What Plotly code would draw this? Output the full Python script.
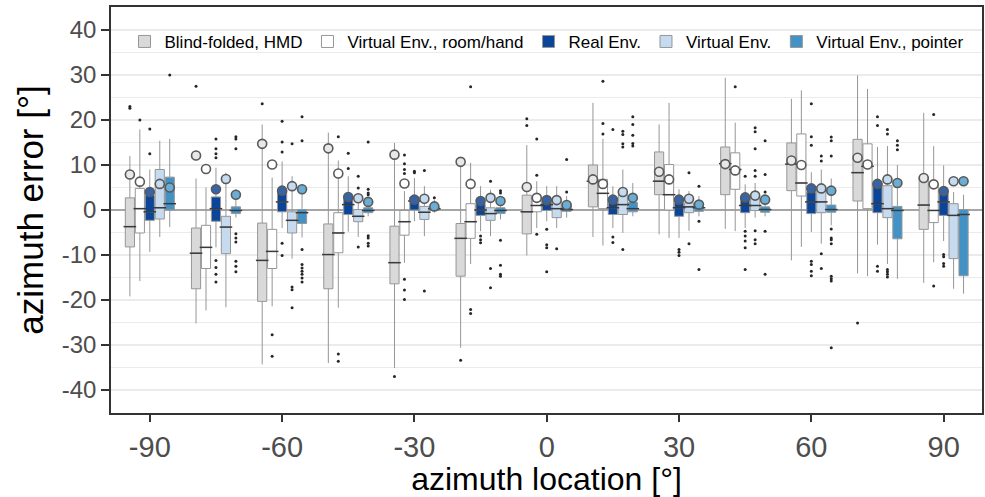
import plotly.graph_objects as go

azimuth = [-90, -75, -60, -45, -30, -15, 0, 15, 30, 45, 60, 75, 90]
conditions = ["Blind-folded, HMD", "Virtual Env., room/hand", "Real Env.",
              "Virtual Env.", "Virtual Env., pointer"]

# Blind-folded, HMD
blind_low = [-19.2, -25.2, -34.3, -34.0, -35.1, -30.6, -10.1, -6.0, -5.4, -4.2, -11.2, -14.1, -16.2]
blind_q1 = [-8.2, -17.5, -20.3, -17.5, -16.4, -14.7, -5.3, 0.7, 3.4, 3.4, 4.3, 2.0, -4.3]
blind_med = [-3.7, -9.6, -11.2, -9.9, -11.7, -6.3, -0.4, 6.4, 6.4, 10.3, 10.2, 8.3, 1.1]
blind_q3 = [2.7, -4.0, -2.9, -3.1, -3.6, -3.0, 3.3, 10.0, 12.9, 14.0, 14.9, 15.7, 7.4]
blind_high = [12.0, 7.0, 19.0, 17.2, 14.9, 10.0, 14.4, 23.8, 19.0, 29.4, 24.7, 29.9, 21.6]
blind_mean = [7.9, 12.1, 14.7, 13.7, 12.3, 10.7, 5.1, 6.8, 8.5, 10.2, 11.0, 11.6, 7.1]
blind_out_x = [-90, -90, -75, -60, -30, -15, 0, 0, 75]
blind_out_y = [23.0, 22.6, 27.5, 23.6, -37.0, -33.4, 20.3, 18.8, -25.1]

# Virtual Env., room/hand
room_low = [-15.8, -22.3, -21.4, -21.7, -11.7, -12.0, -4.0, -7.9, -6.2, -4.7, -8.2, -14.7, -11.6]
room_q1 = [-5.1, -13.0, -13.0, -9.5, -5.6, -6.3, -0.4, 0.3, 0.0, 4.6, 3.1, 0.3, -2.8]
room_med = [0.3, -8.3, -9.2, -5.1, -2.6, -2.6, 1.0, 3.7, 3.4, 9.0, 6.0, 9.7, -0.1]
room_q3 = [4.8, -3.4, -4.3, -0.6, -0.1, 1.4, 2.0, 6.8, 10.1, 12.7, 16.9, 14.7, 5.7]
room_high = [17.9, 5.0, 7.2, 11.0, 4.2, 10.5, 6.4, 15.8, 23.8, 19.4, 26.6, 26.9, 14.2]
room_mean = [6.3, 9.1, 10.1, 8.1, 5.9, 5.8, 2.7, 5.8, 6.8, 8.8, 10.0, 10.1, 5.7]
room_out_x = [-90, -60, -60, -45, -45, -45, -30, -30, -30, -30, -30, -30, -30,
              -15, -15, -15, 0, 0, 0, 15, 15, 15, 45, 90, 90]
room_out_y = [20.0, -27.7, -32.5, 16.3, -32.0, -33.6, 12.2, 10.3, 9.0, 8.1, -15.4, -17.8, -19.9,
              27.4, -22.1, -23.0, 15.8, 7.7, -5.4, 28.6, 19.2, 16.9, 27.4, 21.2, -16.9]

# Real Env.
real_low = [-9.3, -8.3, -4.0, -4.8, -2.5, -4.7, -2.5, -4.0, -6.2, -4.0, -4.9, -7.7, -6.9]
real_q1 = [-2.3, -2.5, -0.4, -1.0, 0.0, -1.2, -0.1, -1.0, -1.4, -0.6, -0.8, -0.6, -1.2]
real_med = [-0.4, 0.3, 1.8, 1.2, 2.0, 0.0, 1.2, 0.5, 0.5, 1.0, 1.8, 1.4, 1.8]
real_q3 = [3.2, 2.9, 4.4, 3.1, 2.9, 1.4, 2.3, 2.7, 1.6, 2.5, 4.0, 6.0, 4.3]
real_high = [9.0, 9.4, 10.8, 7.5, 7.1, 5.3, 5.3, 5.3, 4.6, 5.7, 8.4, 14.0, 9.9]
real_mean = [4.0, 4.6, 4.3, 2.9, 2.3, 2.0, 2.2, 2.3, 2.3, 2.8, 4.8, 5.8, 4.2]
real_out_x = [-90, -90, -75, -75, -75, -75, -75, -75, -75, -75, -60, -60, -60, -60, -60,
              -45, -45, -30, -30, -15, -15, -15, 0, 0, 0, 0, 15, 15, 15, 30, 30, 30,
              45, 45, 45, 45, 45, 45, 60, 60, 60, 60, 60, 60, 60, 75, 75, 75, 75,
              90, 90, 90, 90]
real_out_y = [18.0, 12.5, 15.8, 13.6, 12.5, 11.6, -11.2, -12.8, -14.3, -16.0, 19.7, 15.1, 12.9, -7.4, -10.1,
              12.6, 9.2, 8.6, 8.3, -5.8, -6.6, -7.3, -4.3, -7.7, -8.4, -13.7, 17.9, -6.0, -7.2, -8.8, -9.4, -10.1,
              7.5, -4.7, -5.8, -6.9, -8.4, -13.2, 23.6, 16.3, 14.4, -11.4, -12.1, -13.6, -14.6, 20.7, 18.8, -12.5, -13.6,
              -9.9, -10.4, -11.9, -12.5]

# Virtual Env.
virt_low = [-6.0, -21.6, -10.8, -6.0, -5.8, -5.8, -4.0, -5.1, -4.6, -1.7, -7.5, -12.0, -17.5]
virt_q1 = [-2.0, -9.7, -5.1, -2.6, -2.1, -2.3, -1.7, -1.0, -0.6, -0.1, -0.6, -1.7, -10.8]
virt_med = [0.5, -3.8, -2.3, -1.4, -0.5, -0.8, 0.3, 1.2, 0.7, 1.0, 1.8, 0.3, -1.2]
virt_q3 = [9.0, -1.4, -0.4, 0.1, 0.8, 0.5, 2.0, 3.4, 1.6, 3.1, 5.3, 5.4, 1.4]
virt_high = [15.4, 8.3, 7.5, 3.5, 5.3, 4.5, 5.3, 9.0, 4.2, 6.0, 9.0, 14.2, 4.0]
virt_mean = [5.8, 6.9, 5.3, 2.6, 2.5, 2.7, 2.2, 4.0, 2.5, 3.2, 4.8, 6.8, 6.4]
virt_out_x = [-60, -60, -60, -60, -45, -45, -45, -30, -30, -15, -15, -15, 0,
              15, 15, 15, 15, 15, 30, 30, 45, 45, 45, 45, 45, 45, 45, 45,
              60, 60, 60, 60, 75, 75, 75, 75, 75, 75]
virt_out_y = [14.7, -17.1, -17.7, -21.7, 7.5, 4.9, -8.2, 8.8, -18.0, 6.4, -13.0, -17.3, -8.6,
              17.5, 16.8, 14.7, 14.0, -8.8, 8.3, -7.5, 18.3, 17.4, 13.6, 8.8, 7.5, -4.6, -6.6, -7.5,
              12.0, 10.9, -9.7, -13.0, 17.9, 16.9, -13.2, -13.7, -14.3, -14.9]

# Virtual Env., pointer
point_low = [-3.8, -1.7, -6.1, -1.4, -0.6, -2.1, -1.7, -1.4, -1.4, -1.4, -3.4, -15.3, -18.6]
point_q1 = [0.0, -0.8, -3.0, -0.6, -0.1, -0.8, -0.3, -0.4, -0.3, -0.5, -0.5, -6.4, -14.6]
point_med = [1.4, -0.1, -0.6, -0.1, 0.3, -0.1, 0.1, 0.3, 0.5, 0.1, 0.1, -0.1, -1.0]
point_q3 = [7.3, 0.7, 0.1, 0.5, 0.8, 0.5, 1.2, 1.7, 1.2, 0.7, 1.1, 0.8, 0.1]
point_high = [15.8, 4.6, 5.7, 2.3, 2.3, 3.1, 3.1, 6.0, 3.1, 1.6, 7.0, 10.0, 3.4]
point_mean = [5.0, 3.4, 4.6, 1.8, 0.8, 2.0, 1.1, 2.7, 1.2, 2.3, 4.3, 6.0, 6.4]
point_out_x = [-90, -75, -75, -75, -75, -75, -75, -75, -75, -75,
               -60, -60, -60, -60, -60, -60, -60, -60, -60,
               -45, -45, -45, -45, -45, -45, -45, -45, -30,
               -15, -15, -15, -15, -15, -15, 0, 0, 15, 15, 15, 15, 15,
               30, 30, 30, 45, 45, 45, 45, 45,
               60, 60, 60, 60, 60, 60, 60, 60, 60, 60, 60, 75, 75, 75]
point_out_y = [30.0, 16.3, 15.8, 13.6, -5.3, -6.2, -7.1, -11.4, -12.5, -13.7,
               20.7, 15.4, -8.8, -12.1, -12.9, -13.6, -14.3, -15.1, -16.0,
               15.1, 4.6, 3.8, 3.4, -5.7, -6.2, -7.4, -8.0, 2.7,
               4.3, 3.8, -6.7, -12.3, -14.3, -14.7, 11.2, 4.0, 20.7, 19.0, 16.6, 14.8, 14.2,
               5.3, -2.5, -13.2, 15.4, 7.9, 4.0, -4.7, -14.3,
               16.2, 15.4, 12.0, -4.2, -6.2, -6.6, -7.5, -14.7, -15.3, -15.8, -30.6, 15.4, 14.4, 13.4]

x_ticks = [-90, -60, -30, 0, 30, 60, 90]
x_tick_text = ["-90", "-60", "-30", "0", "30", "60", "90"]
y_ticks = [-40, -30, -20, -10, 0, 10, 20, 30, 40]
y_tick_text = ["-40", "-30", "-20", "-10", "0", "10", "20", "30", "40"]

box_fill = ["#d9d9d9", "#ffffff", "#0a4599", "#c6dbef", "#4292c6"]
mean_fill = ["#e8e8e8", "#ffffff", "#3565a8", "#c6dbef", "#6aaed6"]

series = [
    (blind_low, blind_q1, blind_med, blind_q3, blind_high, blind_mean, blind_out_x, blind_out_y),
    (room_low, room_q1, room_med, room_q3, room_high, room_mean, room_out_x, room_out_y),
    (real_low, real_q1, real_med, real_q3, real_high, real_mean, real_out_x, real_out_y),
    (virt_low, virt_q1, virt_med, virt_q3, virt_high, virt_mean, virt_out_x, virt_out_y),
    (point_low, point_q1, point_med, point_q3, point_high, point_mean, point_out_x, point_out_y),
]

fig = go.Figure()
for i, (name, s) in enumerate(zip(conditions, series)):
    low, q1, med, q3, high, mean, ox, oy = s
    fig.add_trace(go.Box(
        name=name, x=azimuth, q1=q1, median=med, q3=q3,
        lowerfence=low, upperfence=high, boxpoints=False,
        fillcolor=box_fill[i], line=dict(color="#969696", width=1),
        whiskerwidth=0, offsetgroup=str(i), legendgroup=str(i),
    ))
for i, (name, s) in enumerate(zip(conditions, series)):
    low, q1, med, q3, high, mean, ox, oy = s
    # median bars drawn darker, as in the reference
    fig.add_trace(go.Scatter(
        x=azimuth, y=med, mode="markers", offsetgroup=str(i), showlegend=False,
        marker=dict(symbol="line-ew", size=9, color="#3a3a3a",
                    line=dict(color="#3a3a3a", width=1.5)),
        hoverinfo="skip",
    ))
    fig.add_trace(go.Scatter(
        x=ox, y=oy, mode="markers", offsetgroup=str(i), showlegend=False,
        marker=dict(size=3, color="#262626"), hoverinfo="skip",
    ))
    fig.add_trace(go.Scatter(
        x=azimuth, y=mean, mode="markers", offsetgroup=str(i), showlegend=False,
        marker=dict(size=9, color=mean_fill[i], line=dict(color="#595959", width=1.6)),
    ))

fig.update_layout(
    width=985, height=497,
    margin=dict(l=111, r=3, t=7, b=84, autoexpand=False),
    paper_bgcolor="white", plot_bgcolor="white",
    boxmode="group", boxgap=0.247, boxgroupgap=0.08,
    scattermode="group", scattergap=0.247,
    font=dict(family="Liberation Sans, Arial, sans-serif", color="black"),
    legend=dict(orientation="h", x=0.5, xanchor="center", y=0.914, yanchor="middle",
                font=dict(size=17, color="black"), bgcolor="rgba(0,0,0,0)",
                itemwidth=30, tracegroupgap=0),
    showlegend=True,
)
fig.update_xaxes(
    range=[-98.8, 98.7], tickmode="array", tickvals=x_ticks, ticktext=x_tick_text,
    ticks="outside", ticklen=7, tickwidth=1.5, tickcolor="#333333",
    tickfont=dict(size=29, color="#4d4d4d"),
    showgrid=False, zeroline=False, automargin=False,
    showline=True, mirror=True, linecolor="#333333", linewidth=1.5,
    title=dict(text="azimuth location [°]", font=dict(size=32, color="black"), standoff=7),
)
fig.update_yaxes(
    range=[-45.1, 45.1], tickmode="array", tickvals=y_ticks, ticktext=y_tick_text,
    ticks="outside", ticklen=8, tickwidth=1.5, tickcolor="#333333",
    tickfont=dict(size=24, color="#4d4d4d"), automargin=False,
    showgrid=True, gridcolor="#ebebeb", gridwidth=2,
    minor=dict(tickmode="array", tickvals=[-45, -35, -25, -15, -5, 5, 15, 25, 35, 45],
               showgrid=True, gridcolor="#ebebeb", gridwidth=1, ticks=""),
    zeroline=True, zerolinecolor="#a6a6a6", zerolinewidth=2,
    showline=True, mirror=True, linecolor="#333333", linewidth=1.5,
    title=dict(text="azimuth error [°]", font=dict(size=35, color="black"), standoff=8),
)

fig.write_html(
    "out.html",
    config={"displayModeBar": False},
    post_script="document.body.style.margin='0';document.body.style.overflow='hidden';",
)
